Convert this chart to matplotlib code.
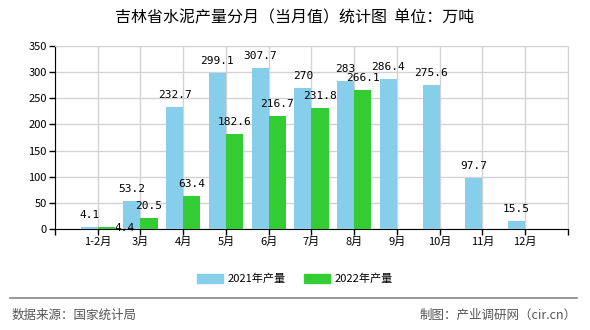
import numpy as np
import matplotlib
matplotlib.use('Agg')
import matplotlib.pyplot as plt
from matplotlib.patches import Patch

plt.rcParams['font.family'] = ['Noto Sans CJK SC', 'DejaVu Sans']

# Data
months = ['1-2月', '3月', '4月', '5月', '6月', '7月', '8月', '9月', '10月', '11月', '12月']
vals_2021 = [4.1, 53.2, 232.7, 299.1, 307.7, 270, 283, 286.4, 275.6, 97.7, 15.5]
vals_2022 = [4.4, 20.5, 63.4, 182.6, 216.7, 231.8, 266.1]
y_ticks = [0, 50, 100, 150, 200, 250, 300, 350]

c2021 = '#87CEEB'
c2022 = '#33CC33'

fig = plt.figure(figsize=(5.9, 3.3), dpi=100)
ax = fig.add_axes([0.0932, 0.3061, 0.8695, 0.5545])

x = np.arange(1, len(months) + 1)
w = 0.4
b1 = ax.bar(x[:len(vals_2021)] - w / 2, vals_2021, w, color=c2021, zorder=3)
b2 = ax.bar(x[:len(vals_2022)] + w / 2, vals_2022, w, color=c2022, zorder=3)

lab_font = dict(fontsize=8, family=['DejaVu Sans Mono'], color='black', zorder=4)
for bars, vals, name in ((b1, vals_2021, '2021'), (b2, vals_2022, '2022')):
    for i, (rect, v) in enumerate(zip(bars, vals)):
        txt = f'{v:g}'
        cx = rect.get_x() + rect.get_width() / 2
        if name == '2022' and i == 0:
            # tiny value: label sits right of the bar, like the source
            ax.annotate(txt, (rect.get_x() + rect.get_width(), v),
                        xytext=(0, -1), textcoords='offset points',
                        ha='left', va='center', **lab_font)
        else:
            ax.annotate(txt, (cx, v), xytext=(0, 5), textcoords='offset points',
                        ha='center', va='bottom', **lab_font)

ax.set_xlim(0, 12)
ax.set_ylim(0, 350)
ax.set_yticks(y_ticks)
ax.set_yticklabels([str(t) for t in y_ticks], fontsize=8)
ax.set_xticks(range(0, 13))
ax.set_xticklabels([''] + months + [''], fontsize=8)

ax.grid(True, color='#d3d3d3', linewidth=1, zorder=0)
for s in ('top', 'right'):
    ax.spines[s].set_color('#d3d3d3')
for s in ('left', 'bottom'):
    ax.spines[s].set_color('black')
ax.tick_params(axis='both', length=4, width=1, colors='black', pad=2)

fig.text(0.5, 0.945, '吉林省水泥产量分月（当月值）统计图  单位：万吨',
         ha='center', va='center', fontsize=11.5)

handles = [Patch(color=c2021, label='2021年产量'), Patch(color=c2022, label='2022年产量')]
fig.legend(handles=handles, loc='center', bbox_to_anchor=(0.5, 0.155), ncol=2,
           frameon=False, fontsize=8, handlelength=2.4, handleheight=0.9,
           columnspacing=1.6, handletextpad=0.4)

fig.add_artist(plt.Line2D([0.017, 0.978], [0.097, 0.097], color='#888888', linewidth=1.2))
fig.text(0.02, 0.045, '数据来源：国家统计局', ha='left', va='center', fontsize=9, color='#555555')
fig.text(0.978, 0.045, '制图：产业调研网（cir.cn）', ha='right', va='center', fontsize=9, color='#555555')

fig.savefig('out.png', dpi=100)
